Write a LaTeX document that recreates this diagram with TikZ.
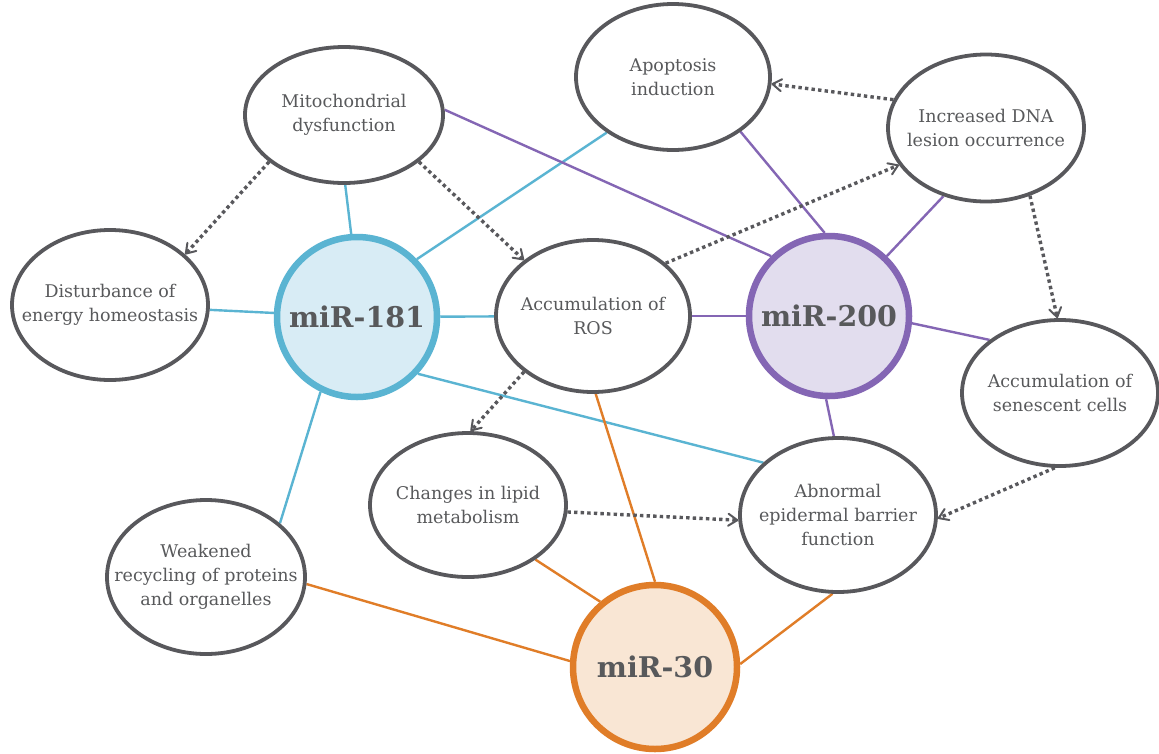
\documentclass[tikz,border=0pt]{standalone}
\usepackage{fontspec}
\setmainfont{DejaVu Serif}
\usetikzlibrary{arrows.meta,backgrounds,shapes.geometric}
\definecolor{txt}{HTML}{58595B}
\definecolor{bord}{HTML}{58585C}
\definecolor{blueL}{HTML}{5AB4D2}
\definecolor{blueF}{HTML}{D8ECF5}
\definecolor{purL}{HTML}{8466B4}
\definecolor{purF}{HTML}{E2DDEE}
\definecolor{orL}{HTML}{E07D28}
\definecolor{orF}{HTML}{F9E6D4}
\tikzset{
  ell/.style={ellipse,draw=bord,line width=3.8pt,fill=white,inner xsep=-30pt,inner ysep=0pt,align=center,
    text=txt,font=\fontsize{17.5}{24}\selectfont},
  mir/.style={circle,line width=6.5pt,inner sep=-20pt,text=txt,
    font=\fontsize{28.5}{30}\selectfont\bfseries},
  bl/.style={blueL,line width=2.4pt},
  pl/.style={purL,line width=2.4pt},
  ol/.style={orL,line width=2.4pt},
  dot/.style={bord,line width=3.4pt,dash pattern=on 3.4pt off 3.2pt,
    -{Straight Barb[length=9pt,width=12pt,line width=2pt,round]}}
}
\begin{document}
\begin{tikzpicture}[x=1pt,y=-1pt]
\useasboundingbox (0,0) rectangle (1159,753);
\node[ell,minimum width=198pt,minimum height=136pt] (mito) at (344,115) {Mitochondrial\\dysfunction};
\node[ell,minimum width=194pt,minimum height=146pt] (apo) at (673,77) {Apoptosis\\induction};
\node[ell,minimum width=196pt,minimum height=147pt] (dna) at (986,128) {Increased DNA\\lesion occurrence};
\node[ell,minimum width=196pt,minimum height=150pt] (dist) at (110,305) {Disturbance of\\energy homeostasis};
\node[ell,minimum width=194pt,minimum height=152pt] (ros) at (593,316) {Accumulation of\\ROS};
\node[ell,minimum width=196pt,minimum height=146pt] (sen) at (1060,393) {Accumulation of\\senescent cells};
\node[ell,minimum width=196pt,minimum height=144pt] (lip) at (468,505) {Changes in lipid\\metabolism};
\node[ell,minimum width=196pt,minimum height=154pt] (abn) at (838,515) {Abnormal\\epidermal barrier\\function};
\node[ell,minimum width=198pt,minimum height=154pt] (weak) at (206,577) {Weakened\\recycling of proteins\\and organelles};
\node[mir,draw=blueL,fill=blueF,minimum size=160pt] (m181) at (357,317) {miR-181};
\node[mir,draw=purL,fill=purF,minimum size=160pt] (m200) at (829,316) {miR-200};
\node[mir,draw=orL,fill=orF,minimum size=164pt] (m30) at (655,667) {miR-30};
\begin{scope}[on background layer]
\fill[white] (0,0) rectangle (1159,753);
% miR-181
\draw[bl] (m181.94) -- (mito.271);
\draw[bl] (m181.44) -- (apo.220);
\draw[bl] (m181) -- (dist);
\draw[bl] (m181) -- (ros);
\draw[bl] (m181.-43) -- (abn.145);
\draw[bl] (m181.244) -- (weak.36);
% miR-200
\draw[pl] (mito.3) -- (m200.134);
\draw[pl] (apo.-39) -- (m200.93);
\draw[pl] (dna.238) -- (m200.46);
\draw[pl] (ros) -- (m200);
\draw[pl] (m200.-5) -- (sen.143);
\draw[pl] (m200.268) -- (abn.93);
% miR-30
\draw[ol] (weak.-4) -- (m30.176);
\draw[ol] (lip.-39) -- (m30.130);
\draw[ol] (ros.272) -- (m30.90);
\draw[ol] (abn.266) -- (m30.2);
\end{scope}
% dotted arrows
\draw[dot] (mito.212) -- (dist.34);
\draw[dot] (mito.-32) -- (ros.141);
\draw[dot] (dna.163) -- (apo.-4);
\draw[dot] (ros.36) -- (dna.203);
\draw[dot] (dna.-57) -- (sen.92);
\draw[dot] (ros.219) -- (lip.88);
\draw[dot] (lip.-4) -- (abn.183);
\draw[dot] (sen.266) -- (abn.-2);
\end{tikzpicture}
\end{document}
